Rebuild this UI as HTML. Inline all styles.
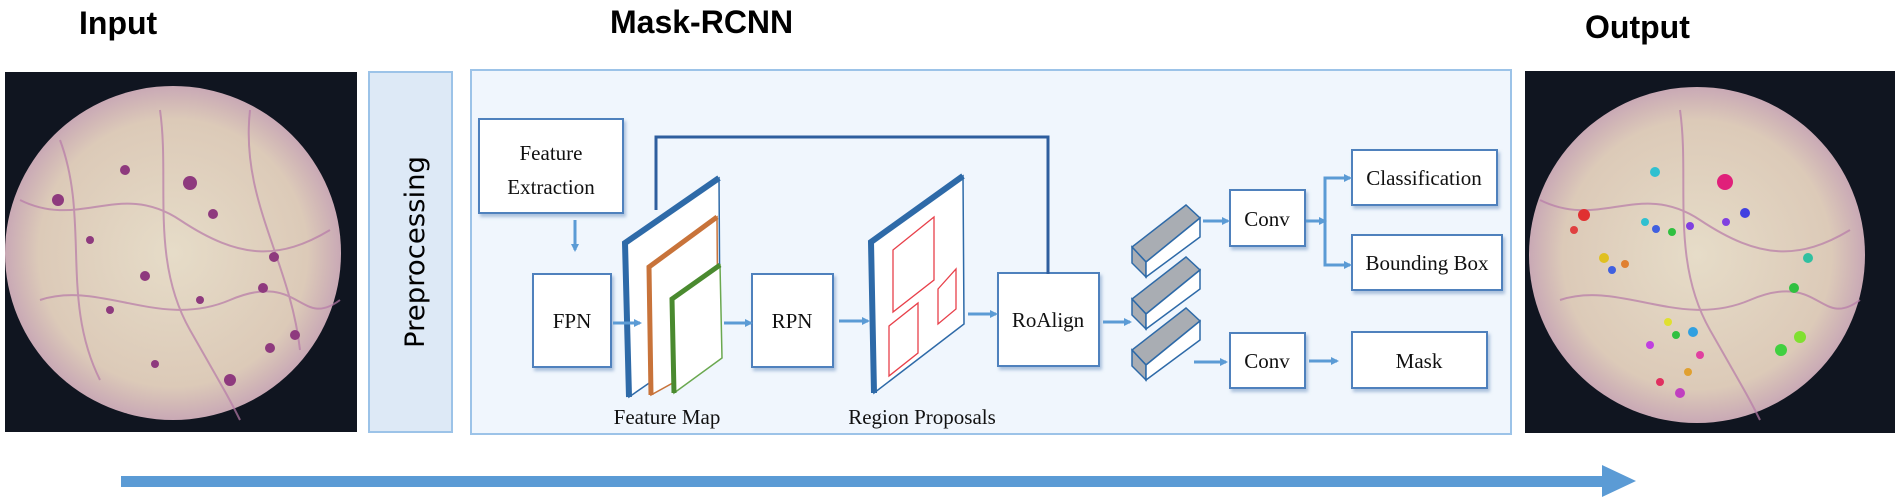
<!DOCTYPE html>
<html><head><meta charset="utf-8"><style>
html,body{margin:0;padding:0;background:#fff;width:1900px;height:500px;overflow:hidden}
</style></head><body>
<svg width="1900" height="500" viewBox="0 0 1900 500" xmlns="http://www.w3.org/2000/svg">
<defs>
<radialGradient id="tis" cx="0.5" cy="0.5" r="0.5">
<stop offset="0" stop-color="#e6dcc8"/><stop offset="0.8" stop-color="#dccab8"/><stop offset="1" stop-color="#c9a9b5"/>
</radialGradient>
<filter id="sh" x="-10%" y="-10%" width="130%" height="130%"><feDropShadow dx="2" dy="3" stdDeviation="1.5" flood-color="#7a9cc6" flood-opacity="0.6"/></filter>
<marker id="ar" markerWidth="8" markerHeight="8" refX="6" refY="4" orient="auto" markerUnits="userSpaceOnUse"><path d="M0,0 L8,4 L0,8 z" fill="#5b9bd5"/></marker>
<clipPath id="c1"><rect x="5" y="72" width="352" height="360"/></clipPath>
<clipPath id="c2"><rect x="1525" y="71" width="370" height="362"/></clipPath>
</defs>
<g font-family="Liberation Sans, sans-serif" font-weight="bold" font-size="32" fill="#000">
<text x="79" y="34">Input</text>
<text x="610" y="33">Mask-RCNN</text>
<text x="1585" y="38">Output</text>
</g>
<!-- input image -->
<rect x="5" y="72" width="352" height="360" fill="#101520"/>
<g clip-path="url(#c1)">
<ellipse cx="173" cy="253" rx="168" ry="167" fill="url(#tis)"/>
<g stroke="#b77aa8" stroke-width="2" fill="none" opacity="0.7">
<path d="M20,200 C80,230 120,180 180,220 S280,260 330,230"/>
<path d="M40,300 C100,280 160,330 230,300 S300,330 340,300"/>
<path d="M160,110 C170,180 150,260 190,330 S230,400 240,420"/>
<path d="M250,110 C240,200 290,260 300,350"/>
<path d="M60,140 C90,220 60,300 100,380"/>
</g>
<g fill="#8e3a7e">
<circle cx="190" cy="183" r="7"/><circle cx="58" cy="200" r="6"/><circle cx="213" cy="214" r="5"/><circle cx="125" cy="170" r="5"/><circle cx="274" cy="257" r="5"/><circle cx="263" cy="288" r="5"/><circle cx="145" cy="276" r="5"/><circle cx="295" cy="335" r="5"/><circle cx="270" cy="348" r="5"/><circle cx="155" cy="364" r="4"/><circle cx="230" cy="380" r="6"/><circle cx="90" cy="240" r="4"/><circle cx="110" cy="310" r="4"/><circle cx="200" cy="300" r="4"/>
</g>
</g>
<!-- preprocessing -->
<rect x="369" y="72" width="83" height="360" fill="#dde9f6" stroke="#9cc3e8" stroke-width="2"/>
<text transform="translate(424,348) rotate(-90)" font-family="DejaVu Sans, sans-serif" font-size="27" textLength="192" lengthAdjust="spacingAndGlyphs" fill="#000">Preprocessing</text>
<!-- main panel -->
<rect x="471" y="70" width="1040" height="364" fill="#f0f6fd" stroke="#9cc3e8" stroke-width="2"/>
<g font-family="Liberation Serif, serif" font-size="21" fill="#111" text-anchor="middle">
<g fill="#fff" stroke="#4f81bd" stroke-width="2" filter="url(#sh)">
<rect x="479" y="119" width="144" height="94"/>
<rect x="533" y="274" width="78" height="93"/>
<rect x="752" y="274" width="81" height="93"/>
<rect x="998" y="273" width="101" height="93"/>
<rect x="1230" y="190" width="75" height="56"/>
<rect x="1230" y="333" width="75" height="55"/>
<rect x="1352" y="150" width="145" height="55"/>
<rect x="1352" y="235" width="150" height="55"/>
<rect x="1352" y="332" width="135" height="56"/>
</g>
<text x="551" y="160">Feature</text><text x="551" y="194">Extraction</text>
<text x="572" y="328">FPN</text>
<text x="792" y="328">RPN</text>
<text x="1048" y="327">RoAlign</text>
<text x="1267" y="226">Conv</text>
<text x="1267" y="368">Conv</text>
<text x="1424" y="185">Classification</text>
<text x="1427" y="270">Bounding Box</text>
<text x="1419" y="368">Mask</text>
<text x="667" y="424">Feature Map</text>
<text x="922" y="424">Region Proposals</text>
</g>
<!-- top connector -->
<polyline points="656,210 656,137 1048,137 1048,274" fill="none" stroke="#2e5e9e" stroke-width="3"/>
<!-- feature map planes -->
<polygon points="625,243 719,178 720,334 629,397" fill="#fff" stroke="#2e6aa8" stroke-width="1.5"/>
<polyline points="629,397 625,243 719,178" fill="none" stroke="#2e6aa8" stroke-width="6"/>
<polygon points="649,267 717,217 718,358 651,395" fill="#fff" stroke="#c8733a" stroke-width="1.5"/>
<polyline points="651,395 649,267 717,217" fill="none" stroke="#c8733a" stroke-width="5"/>
<polygon points="672,299 720,265 722,358 674,393" fill="#fff" stroke="#6aa84f" stroke-width="1.5"/>
<polyline points="674,393 672,299 720,265" fill="none" stroke="#4a8a2f" stroke-width="5"/>
<!-- region proposals plane -->
<polygon points="871,242 963,176 964,324 874,393" fill="#fff" stroke="#2e6aa8" stroke-width="1.5"/>
<polyline points="874,393 871,242 963,176" fill="none" stroke="#2e6aa8" stroke-width="6"/>
<g fill="none" stroke="#e8404a" stroke-width="1.3">
<polygon points="893,250 934,217 934,280 893,312"/>
<polygon points="938,289 956,269 956,309 938,324"/>
<polygon points="889,326 918,303 918,353 889,376"/>
</g>
<!-- arrows -->
<g stroke="#5b9bd5" stroke-width="3" fill="none" marker-end="url(#ar)">
<line x1="575" y1="220" x2="575" y2="250"/>
<line x1="613" y1="323" x2="640" y2="323"/>
<line x1="724" y1="323" x2="751" y2="323"/>
<line x1="839" y1="321" x2="868" y2="321"/>
<line x1="968" y1="314" x2="996" y2="314"/>
<line x1="1103" y1="322" x2="1130" y2="322"/>
<line x1="1203" y1="221" x2="1228" y2="221"/>
<line x1="1194" y1="362" x2="1226" y2="362"/>
<line x1="1309" y1="361" x2="1337" y2="361"/>
<line x1="1306" y1="221" x2="1325" y2="221"/>
<polyline points="1325,265 1325,178 1350,178"/>
<polyline points="1325,215 1325,265 1350,265"/>
</g>
<!-- bars -->
<g stroke="#2e6aa8" stroke-width="1.5">
<g id="bar">
<polygon points="1132,247 1186,205 1200,218 1146,262" fill="#a9adb3"/>
<polygon points="1132,247 1146,262 1146,277 1132,263" fill="#a9adb3"/>
<polygon points="1146,262 1200,218 1200,237 1146,277" fill="#fff"/>
</g>
<use href="#bar" transform="translate(0,52)"/>
<use href="#bar" transform="translate(0,103)"/>
</g>
<!-- output image -->
<rect x="1525" y="71" width="370" height="362" fill="#101520"/>
<g clip-path="url(#c2)">
<ellipse cx="1697" cy="255" rx="168" ry="168" fill="url(#tis)"/>
<g stroke="#b77aa8" stroke-width="2" fill="none" opacity="0.7">
<path d="M1540,200 C1600,230 1640,180 1700,220 S1800,260 1850,230"/>
<path d="M1560,300 C1620,280 1680,330 1750,300 S1820,330 1860,300"/>
<path d="M1680,110 C1690,180 1670,260 1710,330 S1750,400 1760,420"/>
</g>
<g>
<circle cx="1725" cy="182" r="8" fill="#e0207a"/><circle cx="1655" cy="172" r="5" fill="#30c0d0"/>
<circle cx="1584" cy="215" r="6" fill="#e03030"/><circle cx="1574" cy="230" r="4" fill="#e04040"/>
<circle cx="1645" cy="222" r="4" fill="#30c0d0"/><circle cx="1656" cy="229" r="4" fill="#4060e0"/>
<circle cx="1672" cy="232" r="4" fill="#30c040"/><circle cx="1690" cy="226" r="4" fill="#8040e0"/>
<circle cx="1745" cy="213" r="5" fill="#4040e0"/><circle cx="1726" cy="222" r="4" fill="#8040e0"/>
<circle cx="1604" cy="258" r="5" fill="#e0c020"/><circle cx="1625" cy="264" r="4" fill="#e08030"/>
<circle cx="1612" cy="270" r="4" fill="#4060e0"/><circle cx="1808" cy="258" r="5" fill="#30c0a0"/>
<circle cx="1794" cy="288" r="5" fill="#30c040"/><circle cx="1668" cy="322" r="4" fill="#e0e030"/>
<circle cx="1693" cy="332" r="5" fill="#30a0e0"/><circle cx="1676" cy="335" r="4" fill="#30c040"/>
<circle cx="1800" cy="337" r="6" fill="#80e030"/><circle cx="1781" cy="350" r="6" fill="#40d040"/>
<circle cx="1650" cy="345" r="4" fill="#c040e0"/><circle cx="1700" cy="355" r="4" fill="#e040a0"/>
<circle cx="1688" cy="372" r="4" fill="#e0a030"/><circle cx="1660" cy="382" r="4" fill="#e03060"/>
<circle cx="1680" cy="393" r="5" fill="#c040c0"/>
</g>
</g>
<!-- bottom arrow -->
<rect x="121" y="476" width="1484" height="11" fill="#5b9bd5"/>
<polygon points="1602,465 1636,481 1602,497" fill="#5b9bd5"/>
</svg>
</body></html>
